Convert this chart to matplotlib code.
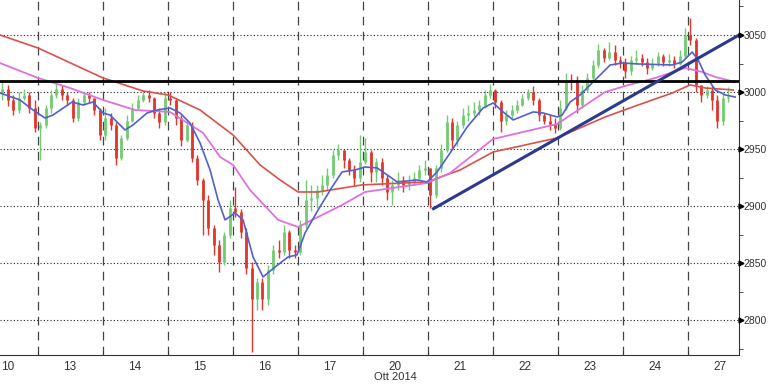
import numpy as np
import matplotlib
matplotlib.use("Agg")
import matplotlib.pyplot as plt
from matplotlib.transforms import blended_transform_factory, ScaledTranslation
from matplotlib import font_manager

# ---------------- data ----------------
day_labels = ["10", "13", "14", "15", "16", "17", "20", "21", "22", "23", "24", "27"]
month_label = "Ott 2014"
bars_per_day = 12
first_slot = 5          # first visible bar slot of the first day
open_first = 3000

closes = [
    3003, 2993, 2984, 2995, 2997, 2986, 2968,
    2971, 2986, 2997, 3003, 2997, 2993, 2977, 2991, 2997, 2995, 2984, 2962,
    2977, 2971, 2942, 2960, 2975, 2986, 2993, 2997, 2995, 2982, 2974, 2995,
    2993, 2977, 2958, 2971, 2942, 2923, 2905, 2881, 2866, 2851, 2875, 2898,
    2895, 2877, 2846, 2818, 2833, 2818, 2844, 2861, 2860, 2877, 2861, 2860,
    2883, 2905, 2907, 2914, 2918, 2927, 2945, 2949, 2940, 2932, 2925, 2939,
    2947, 2930, 2939, 2925, 2912, 2918, 2923, 2918, 2921, 2925, 2932, 2933,
    2910, 2933, 2949, 2974, 2958, 2971, 2980, 2982, 2984, 2989, 2997, 3002,
    2991, 2975, 2980, 2984, 2989, 2995, 3000, 2993, 2980, 2975, 2972, 2968,
    2986, 3010, 3009, 2989, 3002, 3012, 3024, 3037, 3030, 3035, 3028, 3026,
    3018, 3028, 3030, 3026, 3021, 3025, 3032, 3026, 3028, 3025, 3032, 3050,
    3046, 3006, 2997, 3002, 2993, 2975, 2995, 2996,
]
highs = [
    3010, 3006, 2997, 3000, 3003, 3000, 2993,
    2974, 2989, 3002, 3010, 3006, 3000, 2995, 2995, 3000, 3000, 2995, 2986,
    2986, 2982, 2974, 2962, 2980, 2990, 2997, 3002, 3002, 2996, 2986, 3000,
    3000, 2995, 2980, 2975, 2974, 2945, 2925, 2910, 2883, 2870, 2877, 2905,
    2917, 2897, 2881, 2851, 2837, 2837, 2848, 2866, 2870, 2883, 2879, 2866,
    2888, 2923, 2918, 2918, 2927, 2933, 2949, 2954, 2949, 2942, 2936, 2962,
    2960, 2949, 2942, 2942, 2927, 2923, 2930, 2926, 2927, 2930, 2936, 2940,
    2933, 2936, 2954, 2980, 2977, 2975, 2986, 2989, 2991, 2993, 3002, 3007,
    3003, 2993, 2984, 2989, 2993, 2998, 3003, 3005, 2995, 2982, 2980, 2977,
    2993, 3017, 3016, 3014, 3006, 3017, 3028, 3042, 3039, 3044, 3041, 3032,
    3030, 3032, 3037, 3033, 3030, 3030, 3035, 3033, 3033, 3032, 3037, 3056,
    3065, 3047, 3006, 3005, 3005, 2997, 3000, 3004,
]
lows = [
    2993, 2988, 2980, 2982, 2993, 2982, 2965,
    2940, 2968, 2982, 2995, 2993, 2989, 2974, 2975, 2989, 2991, 2980, 2958,
    2958, 2967, 2936, 2940, 2958, 2974, 2984, 2991, 2991, 2977, 2968, 2971,
    2989, 2971, 2953, 2956, 2939, 2918, 2875, 2875, 2857, 2842, 2848, 2872,
    2890, 2872, 2840, 2772, 2809, 2809, 2813, 2840, 2854, 2857, 2854, 2854,
    2857, 2881, 2896, 2898, 2910, 2914, 2925, 2940, 2933, 2927, 2918, 2921,
    2937, 2921, 2921, 2918, 2905, 2901, 2914, 2912, 2914, 2918, 2923, 2927,
    2898, 2907, 2930, 2947, 2951, 2953, 2968, 2975, 2979, 2980, 2986, 2995,
    2986, 2965, 2971, 2977, 2982, 2988, 2993, 2989, 2975, 2972, 2967, 2964,
    2967, 2984, 3002, 2982, 2986, 3000, 3010, 3021, 3026, 3028, 3024, 3021,
    3012, 3015, 3025, 3023, 3016, 3019, 3023, 3023, 3023, 3021, 3024, 3030,
    3041, 3000, 2991, 2995, 2984, 2968, 2971, 2991,
]

# moving averages (x in trading-day units, price)
ma_red_x = [-0.077, 0.508, 1.508, 2.123, 2.508, 3.0, 3.508, 3.923, 4.231, 4.508, 4.815,
            5.492, 6.492, 7.0, 7.508, 8.492, 9.231, 9.738, 10.262, 10.538, 10.769, 11.2]
ma_red = [3050, 3038.6, 3012.3, 3000.9, 2997.4, 2984.2, 2962.3, 2936.0, 2922.8, 2912.3, 2912.3,
          2918.5, 2921.1, 2931.6, 2947.4, 2959.7, 2978.1, 2988.6, 2999.1, 3006.2, 3003.5, 3001.8]

ma_mag_x = [-0.077, 0.508, 1.0, 1.508, 2.0, 2.538, 3.046, 3.308, 3.508, 3.769, 4.2, 4.508,
            4.815, 5.185, 5.538, 6.492, 6.846, 7.508, 8.492, 9.231, 9.538, 10.0, 10.462,
            10.723, 10.923, 11.231]
ma_mag = [3025.4, 3012.3, 3003.5, 2993.0, 2984.2, 2982.5, 2964.1, 2943.0, 2936.0, 2914.0,
          2887.8, 2881.6, 2890.4, 2900.9, 2912.3, 2920.2, 2929.0, 2958.8, 2971.9, 3000.0,
          3005.3, 3012.3, 3021.1, 3017.6, 3013.2, 3008.8]

ma_blue_x = [-0.077, 0.231, 0.431, 0.615, 0.738, 1.031, 1.2, 1.354, 1.508, 1.615, 1.846, 1.969,
             2.185, 2.338, 2.538, 2.692, 2.846, 3.0, 3.154, 3.277, 3.385, 3.538, 3.662, 3.815,
             3.969, 4.154, 4.354, 4.492, 4.615, 4.815, 5.031, 5.185, 5.385, 5.538, 5.723,
             5.923, 6.031, 6.338, 6.492, 6.646, 6.846, 7.108, 7.354, 7.508, 7.662, 7.815,
             7.969, 8.123, 8.277, 8.492, 8.569, 8.692, 8.846, 9.046, 9.308, 9.492, 9.738,
             10.262, 10.415, 10.569, 10.662, 10.769, 10.923, 11.077, 11.231]
ma_blue = [2999.1, 2993.0, 2984.2, 2977.2, 2979.8, 2991.2, 2988.6, 2991.2, 2981.6, 2979.8,
           2966.7, 2971.1, 2981.6, 2984.2, 2986.0, 2981.6, 2972.8, 2955.3, 2931.6, 2905.3,
           2887.8, 2893.9, 2887.8, 2855.3, 2837.8, 2846.5, 2855.3, 2857.1, 2876.4, 2896.5,
           2916.7, 2929.9, 2931.6, 2934.2, 2933.4, 2925.5, 2921.1, 2922.8, 2921.1, 2929.9,
           2946.5, 2969.3, 2986.0, 2990.4, 2982.5, 2975.5, 2979.0, 2982.5, 2981.6, 2978.1,
           2979.8, 2991.2, 2997.4, 3008.8, 3023.7, 3025.4, 3024.6, 3023.7, 3026.3, 3035.1,
           3028.1, 3014.9, 3001.8, 2997.4, 2995.6]

resistance_level = 3010
trend_x = [6.57, 11.29]
trend_y = [2897, 3050]

y_ticks = [2800, 2850, 2900, 2950, 3000, 3050]

# ---------------- fonts ----------------
available = {f.name for f in font_manager.fontManager.ttflist}
fam = [f for f in ["Liberation Sans Narrow", "Liberation Sans", "DejaVu Sans"] if f in available]
plt.rcParams["font.family"] = fam

# ---------------- figure ----------------
fig = plt.figure(figsize=(7.68, 3.84), dpi=100)
ax = fig.add_axes([0.0, 0.0755, 0.9623, 0.9245])
xmin, xmax = -0.077, 11.29
ymin, ymax = 2769.3, 3080.7
ax.set_xlim(xmin, xmax)
ax.set_ylim(ymin, ymax)

# grid
for yv in y_ticks:
    ax.axhline(yv, color="#222222", lw=0.8, ls=(0, (1, 2)), zorder=1)
for d in range(len(day_labels) - 1):
    ax.axvline(d + 0.5, color="#444444", lw=0.9, ls=(0, (7, 5)), zorder=1)

# candles
opens = [open_first] + closes[:-1]
xs = []
for k in range(len(closes)):
    s = first_slot + k
    day, j = divmod(s, bars_per_day)
    xs.append(day - 0.5 + (j + 0.5) / bars_per_day)
xs = np.array(xs)
green = "#72cc72"
red = "#e0362c"
cols = [green if c >= o else red for o, c in zip(opens, closes)]
ax.vlines(xs, lows, highs, colors=cols, lw=1.0, zorder=3)
ax.vlines(xs, np.minimum(opens, closes), np.maximum(opens, closes), colors=cols, lw=2.0, zorder=3)

# moving averages
ax.plot(ma_red_x, ma_red, color="#d9524a", lw=1.2, zorder=4)
ax.plot(ma_mag_x, ma_mag, color="#e070e0", lw=1.3, zorder=4)
ax.plot(ma_blue_x, ma_blue, color="#5060d0", lw=1.2, zorder=5)

# horizontal resistance + trendline
ax.axhline(resistance_level, color="black", lw=2.0, zorder=6)
ax.plot(trend_x, trend_y, color="#2b3a8c", lw=2.2, zorder=6, solid_capstyle="butt", clip_on=False)

# axes styling
for sp in ["left", "top"]:
    ax.spines[sp].set_visible(False)
ax.spines["right"].set_color("#333333")
ax.spines["bottom"].set_color("#333333")
ax.yaxis.tick_right()
ax.set_yticks(y_ticks)
ax.set_yticks([2775, 2825, 2875, 2925, 2975, 3025, 3075], minor=True)
ax.tick_params(axis="y", which="major", length=0, pad=3.5, labelsize=7.5, labelcolor="#333333")
ax.tick_params(axis="y", which="minor", length=3, color="#333333", direction="out")
tr = blended_transform_factory(ax.transAxes, ax.transData)
ax.plot([1.003] * len(y_ticks), y_ticks, marker=">", ms=3.5, color="black", ls="none",
        transform=tr, clip_on=False, zorder=7)

ax.set_xticks(range(len(day_labels)))
ax.set_xticklabels(day_labels)
ax.set_xticks([d + 0.5 for d in range(len(day_labels) - 1)], minor=True)
ax.tick_params(axis="x", which="major", length=0, pad=4, labelsize=8.5, labelcolor="#333333")
ax.tick_params(axis="x", which="minor", length=3, direction="in", color="#333333")
first_lbl = ax.get_xticklabels()[0]
first_lbl.set_horizontalalignment("left")
first_lbl.set_transform(first_lbl.get_transform() + ScaledTranslation(-4 / 100, 0, fig.dpi_scale_trans))

fig.text(395 / 768, 1 - 377 / 384, month_label, ha="center", va="center", fontsize=8, color="#333333")

fig.savefig("out.png", dpi=100)
